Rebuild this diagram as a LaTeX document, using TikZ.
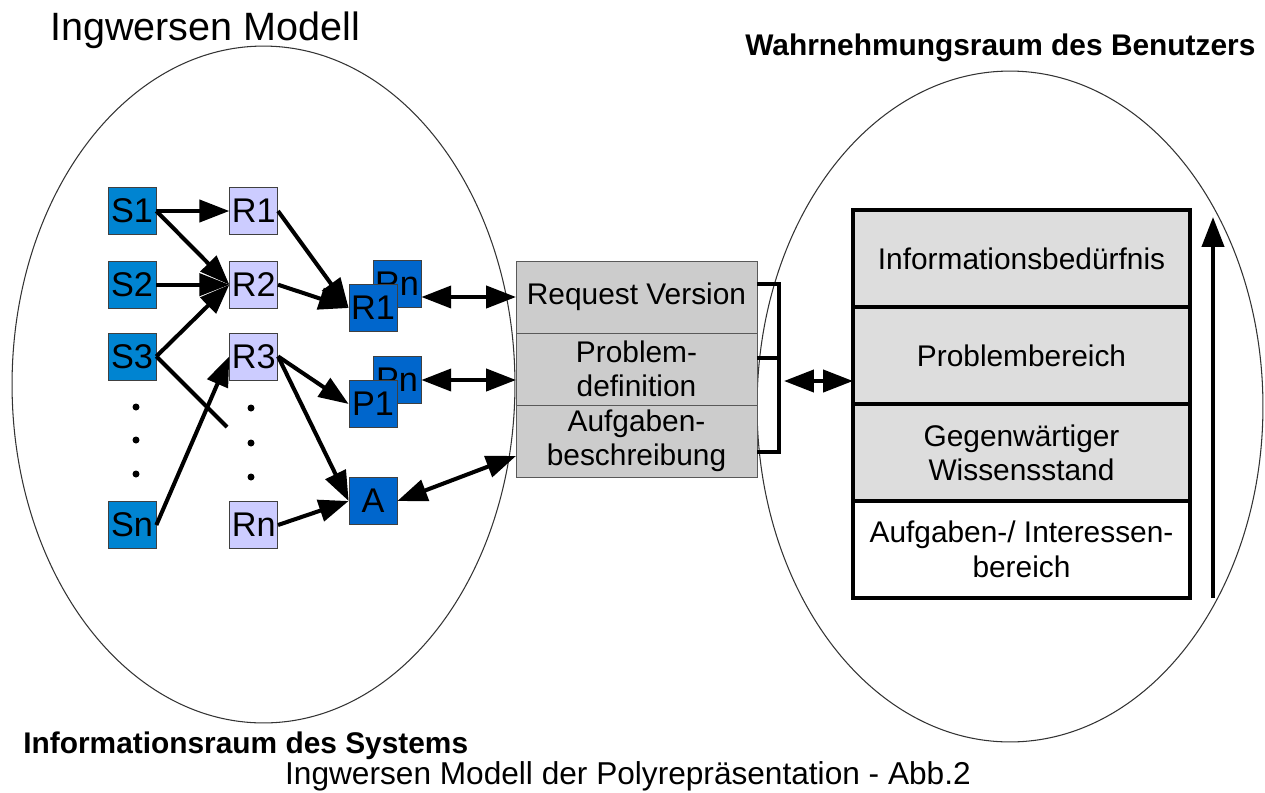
\documentclass[tikz,border=0pt]{standalone}
\usepackage{fontspec}
\setmainfont{Liberation Sans}
\usetikzlibrary{arrows.meta, positioning, calc}

\definecolor{srcblue}{RGB}{0,132,209}
\definecolor{repblue}{RGB}{0,102,204}
\definecolor{replight}{RGB}{204,204,255}
\definecolor{midgray}{RGB}{204,204,204}
\definecolor{layergray}{RGB}{221,221,221}

\begin{document}
\begin{tikzpicture}[
    x=0.02cm, y=-0.02cm,
    txt/.style={font=\fontsize{17}{19.5}\selectfont},
    srcbox/.style={
        rectangle, draw=black!75, fill=srcblue,
        font=\fontsize{19.5}{21}\selectfont,
        minimum width=0.96cm, minimum height=0.94cm, inner sep=0pt
    },
    repbox/.style={srcbox, fill=replight},
    outbox/.style={srcbox, fill=repblue},
    version/.style={
        rectangle, draw=black!65, fill=midgray, txt, align=center,
        minimum width=4.82cm, minimum height=1.44cm, inner sep=0pt,
        outer sep=0pt
    },
    layer/.style={
        rectangle, draw=black, line width=1.8pt, fill=layergray, txt,
        align=center, minimum width=6.74cm, minimum height=1.94cm,
        inner sep=0pt, outer sep=0pt
    },
    space/.style={draw=black!80, line width=0.6pt},
    arrow/.style={-{Triangle[length=17pt,width=12.5pt]}, line width=2.3pt},
    dbl/.style={{Triangle[length=17pt,width=12.5pt]}-{Triangle[length=17pt,width=12.5pt]},
                line width=2.3pt},
    bracket/.style={line width=2pt},
    heading/.style={font=\fontsize{17}{19}\selectfont\bfseries, inner sep=0pt}
]
\useasboundingbox (0,0) rectangle (1265,792);

% the two spaces
\draw[space] (263.5,384.5) ellipse [x radius=5.03cm, y radius=6.77cm];
\draw[space] (1010,406.5) ellipse [x radius=5.06cm, y radius=6.71cm];

\node[anchor=base west, inner sep=0pt, font=\fontsize{22.5}{26}\selectfont]
    (title) at (50,40) {Ingwersen Modell};
\node[heading, anchor=base west] (user) at (745,55)
    {Wahrnehmungsraum des Benutzers};
\node[heading, anchor=base west] (system) at (23,753)
    {Informationsraum des Systems};
\node[txt, anchor=base, inner sep=0pt, font=\fontsize{18}{20}\selectfont]
    (caption) at (628,784) {Ingwersen Modell der Polyrepräsentation - Abb.2};

% sources and representations
\node[srcbox] (S1) at (132,211) {S1};
\node[srcbox, below=0.52cm of S1] (S2) {S2};
\node[srcbox, below=0.48cm of S2] (S3) {S3};
\node[srcbox] (Sn) at (132,525) {Sn};
\node[repbox, right=1.46cm of S1] (R1) {R1};
\node[repbox, right=1.46cm of S2] (R2) {R2};
\node[repbox, right=1.46cm of S3] (R3) {R3};
\node[repbox, right=1.46cm of Sn] (Rn) {Rn};
\foreach \y in {407,440,474} \fill (136,\y) circle (3.5);
\foreach \y in {408,443,477} \fill (251,\y) circle (3.5);

% request, problem and task representations
\node[outbox] (rnb) at (397,284) {Rn};
\node[outbox] (rq1) at (373,308) {R1};
\node[outbox] (pnb) at (397,380) {Pn};
\node[outbox] (pb1) at (373,404) {P1};
\node[outbox] (task) at (373,501) {A};

\node[version] (req) at (636.5,297) {Request Version};
\node[version, below=0pt of req] (prob) {Problem-\\definition};
\node[version, below=0pt of prob] (aufg) {Aufgaben-\\beschreibung};

% cognitive state of the user
\node[layer] (need) at (1021.5,258.5) {Informationsbedürfnis};
\node[layer, below=0pt of need] (area) {Problembereich};
\node[layer, below=0pt of area] (know) {Gegenwärtiger\\Wissensstand};
\node[layer, fill=white, below=0pt of know] (interest)
    {Aufgaben-/ Interessen-\\bereich};

\coordinate (s3end) at (227,427);
\coordinate (brk) at (784,381);
\coordinate (up0) at (1213,598);
\coordinate (up1) at (1213,217);

\draw[arrow] (S1.east) -- (R1.west);
\draw[arrow] (S1.east) -- (R2.west);
\draw[arrow] (S2.east) -- (R2.west);
\draw[arrow] (S3.east) -- (R2.west);
\draw[line width=2.3pt] (S3.east) -- (s3end);
\draw[arrow] (Sn.east) -- (R3.west);
\draw[arrow] (R1.east) -- (rq1.west);
\draw[arrow] (R2.east) -- (rq1.west);
\draw[arrow] (R3.east) -- (pb1.west);
\draw[arrow] (R3.east) -- (task.west);
\draw[arrow] (Rn.east) -- (task.west);

\draw[dbl] (rnb.east |- req.west) -- (req.west);
\draw[dbl] (pnb.east) -- (pnb.east -| prob.west);
\draw[dbl] (task.east) -- ($(aufg.west)+(0,15)$);

\draw[bracket] ($(req.east)+(0,-13)$) -| ($(aufg.east)+(22,11)$)
    -- ($(aufg.east)+(0,11)$);
\draw[bracket] ($(prob.east)+(0,-11)$) -- ++(22,0);
\draw[dbl] (brk) -- (brk -| area.west);

\draw[arrow] (up0) -- (up1);
\end{tikzpicture}
\end{document}
